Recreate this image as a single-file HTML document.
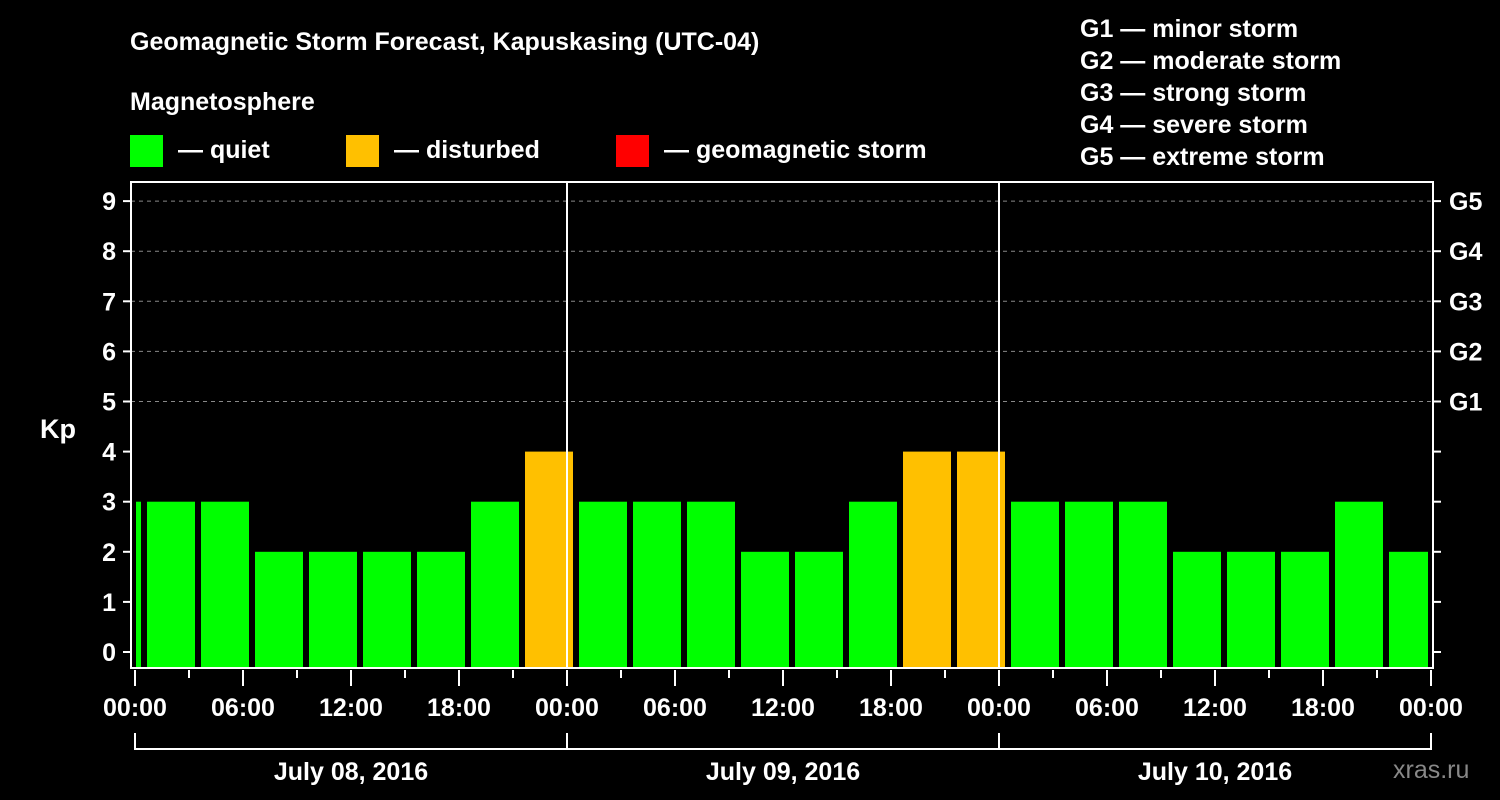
<!DOCTYPE html>
<html><head><meta charset="utf-8"><style>
body{margin:0;background:#000;}
svg{display:block;font-family:"Liberation Sans",Arial,sans-serif;font-weight:bold;}
</style></head><body>
<svg id="c" width="1500" height="800" viewBox="0 0 1500 800">
<rect width="1500" height="800" fill="#000"/>
<text x="130" y="50" fill="#fff" font-size="25">Geomagnetic Storm Forecast, Kapuskasing (UTC-04)</text>
<text x="130" y="110" fill="#fff" font-size="25">Magnetosphere</text>
<g><rect x="130" y="135" width="33" height="32" fill="#00ff00"/><text x="178" y="158" fill="#fff" font-size="25">— quiet</text></g>
<g><rect x="346" y="135" width="33" height="32" fill="#ffc000"/><text x="394" y="158" fill="#fff" font-size="25">— disturbed</text></g>
<g><rect x="616" y="135" width="33" height="32" fill="#ff0000"/><text x="664" y="158" fill="#fff" font-size="25">— geomagnetic storm</text></g>
<g fill="#fff" font-size="25">
<text x="1080" y="37">G1 — minor storm</text>
<text x="1080" y="69">G2 — moderate storm</text>
<text x="1080" y="101">G3 — strong storm</text>
<text x="1080" y="133">G4 — severe storm</text>
<text x="1080" y="165">G5 — extreme storm</text>
</g>
<text x="40" y="438" fill="#fff" font-size="27">Kp</text>
<text x="1393" y="778" fill="#888" font-size="25" font-weight="normal">xras.ru</text>
<defs><clipPath id="pc"><rect x="136" y="182" width="1292" height="486"/></clipPath></defs>
<g id="grid"></g><g id="bars" clip-path="url(#pc)"></g><g id="axes"></g>
</svg>
<script>
const kpValues=[3,3,3,2,2,2,2,3,4,3,3,3,2,2,3,4,4,3,3,3,2,2,2,3,2];
const yTicks=[0,1,2,3,4,5,6,7,8,9];
const gLabels=["G1","G2","G3","G4","G5"];
const hourLabels=["00:00","06:00","12:00","18:00"];
const dayLabels=["July 08, 2016","July 09, 2016","July 10, 2016"];
const NS="http://www.w3.org/2000/svg";
const X0=135,PXH=18,Y0=652,PXK=50.1;
const xs=h=>X0+h*PXH, ys=k=>Y0-k*PXK;
function mk(tag,at,p){const e=document.createElementNS(NS,tag);for(const k in at)e.setAttribute(k,at[k]);p.appendChild(e);return e;}
const grid=document.getElementById('grid'),bars=document.getElementById('bars'),axes=document.getElementById('axes');
yTicks.forEach(k=>{
  if(k>=5){const l=mk('line',{x1:131,x2:1433,y1:ys(k),y2:ys(k),stroke:'#888','stroke-dasharray':'4 4','stroke-width':1},grid);
  }
  mk('line',{x1:123,x2:131,y1:ys(k),y2:ys(k),stroke:'#fff','stroke-width':2},axes);
  mk('line',{x1:1433,x2:1441,y1:ys(k),y2:ys(k),stroke:'#fff','stroke-width':2},axes);
  const t=mk('text',{x:116,y:ys(k)+9,fill:'#fff','font-size':25,'text-anchor':'end'},axes);t.textContent=k;
  
});
gLabels.forEach((g,i)=>{const t=mk('text',{x:1449,y:ys(5+i)+9,fill:'#fff','font-size':25},axes);t.textContent=g;
  });
kpValues.forEach((v,i)=>{
  const c=i*3-1.5+0.5, x=xs(c-1.5)+3, w=3*PXH-6;
  const col=v>=5?'#ff0000':(v>=4?'#ffc000':'#00ff00');
  const r=mk('rect',{x:x,y:ys(v),width:w,height:668-ys(v),fill:col},bars);
  
});
mk('rect',{x:131,y:182,width:1302,height:486,fill:'none',stroke:'#fff','stroke-width':2},axes);
[1,2].forEach(d=>{const l=mk('line',{x1:xs(24*d),x2:xs(24*d),y1:182,y2:668,stroke:'#fff','stroke-width':2},axes);
  });
for(let h=0;h<=72;h+=3){mk('line',{x1:xs(h),x2:xs(h),y1:670,y2:h%6?678:686,stroke:'#fff','stroke-width':2},axes);
  if(h%6===0){const t=mk('text',{x:xs(h),y:716,fill:'#fff','font-size':25,'text-anchor':'middle'},axes);
  t.textContent=hourLabels[(h%24)/6];}}
dayLabels.forEach((d,i)=>{
  mk('path',{d:`M${xs(24*i)},733 V749 H${xs(24*i+24)} V733`,fill:'none',stroke:'#fff','stroke-width':2},axes);
  const t=mk('text',{x:xs(24*i+12),y:780,fill:'#fff','font-size':25,'text-anchor':'middle'},axes);t.textContent=d;
  
});
</script>
</body></html>
